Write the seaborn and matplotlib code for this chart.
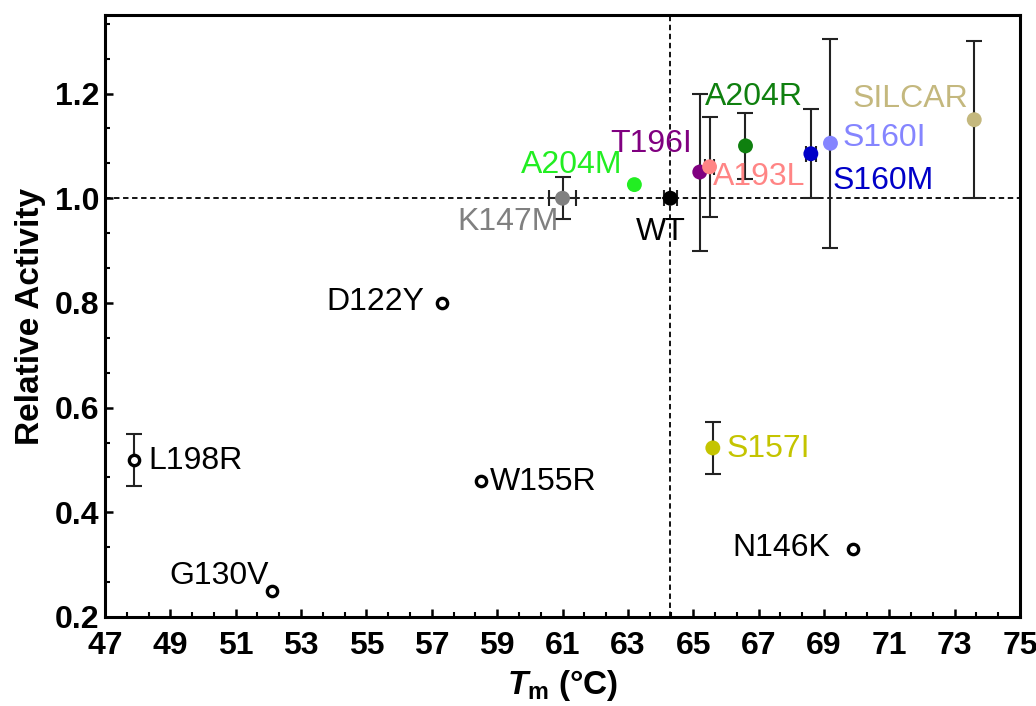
import seaborn as sns
import pandas as pd
import numpy as np
import matplotlib.pyplot as plt
from matplotlib import font_manager

# variants
names = ["WT", "K147M", "A204M", "T196I", "A193L", "A204R", "S160M", "S160I",
         "SILCAR", "D122Y", "L198R", "W155R", "G130V", "S157I", "N146K"]
tm = [64.3, 61.0, 63.2, 65.2, 65.5, 66.6, 68.6, 69.2,
      73.6, 57.3, 47.9, 58.5, 52.1, 65.6, 69.9]
activity = [1.00, 1.00, 1.026, 1.05, 1.06, 1.10, 1.085, 1.105,
            1.15, 0.80, 0.50, 0.46, 0.25, 0.523, 0.33]
tm_err = [0.2, 0.4, 0, 0, 0.15, 0, 0.15, 0, 0, 0, 0, 0, 0, 0, 0]
act_err = [0, 0.04, 0, 0.15, 0.095, 0.063, 0.085, 0.2, 0.15, 0, 0.05, 0, 0, 0.05, 0]
hollow = ["D122Y", "L198R", "W155R", "G130V", "N146K"]

colors = {"WT": "black", "K147M": "#808080", "A204M": "#22EE22", "T196I": "#800080",
          "A193L": "#FF8585", "A204R": "#0F800F", "S160M": "#0000C8", "S160I": "#8585FF",
          "SILCAR": "#C4B87E", "D122Y": "black", "L198R": "black", "W155R": "black",
          "G130V": "black", "S157I": "#C4C400", "N146K": "black"}

# label offsets (points), text centred
offsets = {"WT": (-7, -24), "K147M": (-39, -17), "A204M": (-45, 14), "T196I": (-35, 20),
           "A193L": (36, -7), "A204R": (6, 35), "S160M": (52, -20), "S160I": (39, 4),
           "SILCAR": (-46, 15), "D122Y": (-48, 1), "L198R": (44, -1), "W155R": (45, -1),
           "G130V": (-38, 11), "S157I": (40, -1), "N146K": (-52, 1)}

df = pd.DataFrame({"name": names, "tm": tm, "act": activity,
                   "tm_err": tm_err, "act_err": act_err})
df["hollow"] = df["name"].isin(hollow)

sns.set_style("ticks", {"axes.edgecolor": "black", "xtick.color": "black",
                        "ytick.color": "black", "text.color": "black",
                        "axes.labelcolor": "black"})
plt.rcParams["font.family"] = ["Liberation Sans", "DejaVu Sans"]
plt.rcParams["mathtext.fontset"] = "custom"
plt.rcParams["mathtext.it"] = "Liberation Sans:italic:bold"
plt.rcParams["mathtext.rm"] = "Liberation Sans:bold"

fig = plt.figure(figsize=(10.36, 7.06), dpi=100)
ax = fig.add_axes([105 / 1036, 89 / 706, 915 / 1036, 602 / 706])

ax.axhline(1.0, color="black", ls=(0, (3, 2)), lw=1.3, zorder=1)
ax.axvline(df.loc[df.name == "WT", "tm"].iloc[0], color="black", ls=(0, (3, 2)), lw=1.3, zorder=1)

err = df[(df.tm_err > 0) | (df.act_err > 0)]
ax.errorbar(err.tm, err.act, xerr=err.tm_err, yerr=err.act_err, fmt="none",
            ecolor="#222222", elinewidth=1.5, capsize=6, capthick=1.5, zorder=2)

filled = df[~df.hollow]
sns.scatterplot(data=filled, x="tm", y="act", hue="name", palette=colors, s=115,
                linewidth=0, legend=False, ax=ax, zorder=3)
empty = df[df.hollow]
sns.scatterplot(data=empty, x="tm", y="act", s=55, facecolor="white",
                edgecolor="black", linewidth=2.4, legend=False, ax=ax, zorder=3)

for n, x, y in zip(df.name, df.tm, df.act):
    ax.annotate(n, (x, y), xytext=offsets[n], textcoords="offset points",
                ha="center", va="center", fontsize=23, color=colors[n])

ax.set_xlim(47, 75)
ax.set_ylim(0.2, 1.35)
ax.set_xticks(np.arange(47, 76, 2))
ax.set_xticks(np.arange(47, 75.01, 2 / 3), minor=True)
ax.set_yticks([0.2, 0.4, 0.6, 0.8, 1.0, 1.2])
ax.set_yticks(np.arange(0.2, 1.35, 0.2 / 3), minor=True)
ax.set_yticklabels(["0.2", "0.4", "0.6", "0.8", "1.0", "1.2"])

for s in ax.spines.values():
    s.set_linewidth(2.2)
    s.set_color("black")
ax.tick_params(which="major", direction="in", length=6, width=1.8, colors="black")
ax.tick_params(which="minor", direction="in", length=3.5, width=1.5, colors="black")
ax.tick_params(axis="x", pad=10)
ax.tick_params(axis="y", pad=4)

narrow = "Liberation Sans Narrow"
have_narrow = any(f.name == narrow for f in font_manager.fontManager.ttflist)
for lab in ax.get_xticklabels():
    lab.set_fontweight("bold")
    if have_narrow:
        lab.set_family(narrow)
        lab.set_fontsize(25)
    else:
        lab.set_fontsize(23)
for lab in ax.get_yticklabels():
    lab.set_fontweight("bold")
    lab.set_fontsize(23)

ax.set_xlabel(r"$T_{\mathrm{m}}$ (°C)", fontsize=24, fontweight="bold")
ax.set_ylabel("Relative Activity", fontsize=24, fontweight="bold")
ax.xaxis.set_label_coords(0.5, -0.085)
ax.yaxis.set_label_coords(-0.065, 0.5)

fig.savefig("out.png", dpi=100)
